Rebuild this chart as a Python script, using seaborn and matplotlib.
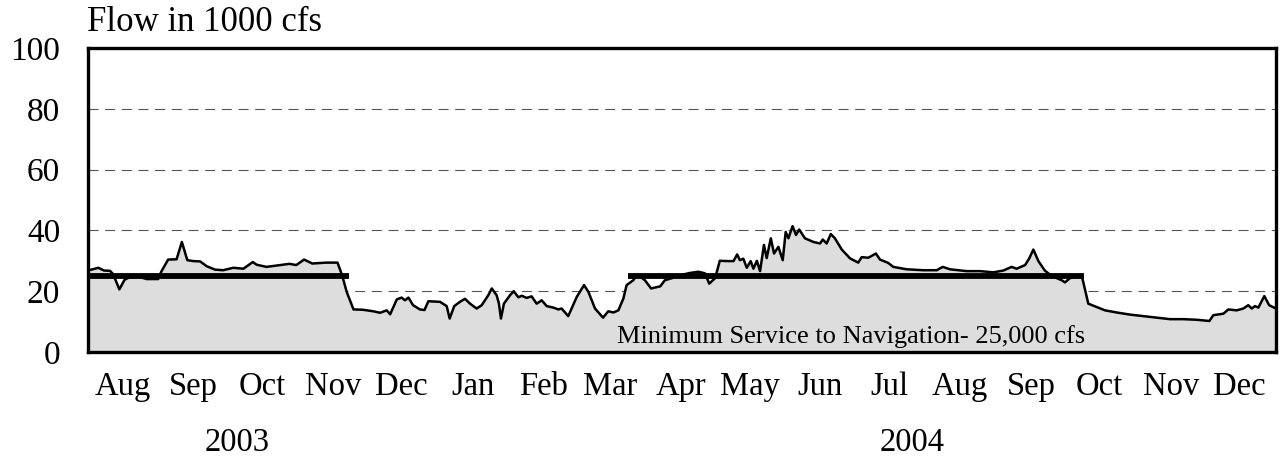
import pandas as pd
import seaborn as sns
import matplotlib.pyplot as plt
import matplotlib.dates as mdates

# flow readings: days after 1 Aug 2003, flow in 1000 cfs
days = [0, 4.5, 7, 9.6, 11, 13.7, 16, 18, 22, 25.6, 30.7, 32, 35, 38.7, 41, 43.4, 46, 49,
        51.9, 55.5, 59, 63.5, 67.9, 72, 73.7, 78, 84, 88, 91, 94.4, 98, 104, 109, 111, 113,
        116, 120, 124.6, 127.6, 130.5, 132, 134.9, 137, 138.5, 140, 142, 145, 147, 148.7,
        153.8, 156.7, 158, 160, 162.5, 164.7, 166.9, 169.8, 172, 174.9, 176.4, 178.5, 179.5,
        180.4, 181.7, 184.4, 186, 188, 189.5, 191.6, 193.8, 196, 198.2, 200.4, 203.3, 205.5,
        206.9, 209.8, 213.5, 216.7, 218.6, 221.5, 225, 227.3, 229.5, 231.7, 233.9, 235.3,
        238.2, 240, 243.3, 246, 250, 252, 256, 260, 263, 266.6, 269.5, 271.4, 274, 276,
        279.7, 282, 283.6, 284.8, 286.3, 287.8, 289.5, 290.7, 292.2, 293.6, 295.3, 296.5,
        298.3, 299.7, 301.6, 303.5, 304.8, 306, 307.8, 309.3, 310.7, 313.2, 316.9, 319.8,
        321, 322.7, 324.5, 326.3, 329.3, 332.9, 336.5, 338, 340.9, 344.2, 346, 349.6, 351.8,
        357.7, 364.9, 370.8, 373.4, 376.6, 383.9, 389.7, 395.5, 399.9, 403.5, 405.7, 409.4,
        411.2, 413, 415.2, 418, 421, 425.4, 426.8, 429, 434, 434.8, 437, 440.7, 444.3, 449.4,
        455.2, 461, 466.9, 472.7, 478.5, 484.4, 489.9, 491.6, 496, 498.2, 501.8, 504.7, 506.9,
        508.4, 509.8, 511.3, 513.9, 516, 519]
flow = [26.8, 27.7, 26.8, 26.7, 25.6, 20.6, 23.8, 24.5, 24.8, 24, 24, 26.4, 30.4, 30.5, 36.2,
        30.2, 29.9, 29.8, 28.2, 27.1, 26.9, 27.7, 27.4, 29.6, 28.7, 28, 28.6, 29, 28.6, 30.4,
        29.1, 29.4, 29.4, 25.3, 19.8, 14, 13.9, 13.4, 12.9, 13.7, 12.4, 17.3, 17.9, 17, 17.9,
        15.4, 14, 13.8, 16.7, 16.5, 15.1, 11, 15.1, 16.5, 17.5, 15.9, 14.3, 15.4, 18.7, 20.9,
        18.7, 16, 11, 15.9, 18.7, 20, 18, 18.5, 17.8, 18.3, 15.9, 17, 15.1, 14.6, 14, 14.3,
        11.8, 18.1, 22, 19.8, 14.3, 11.3, 13.4, 13, 13.7, 17.6, 22, 23.6, 25.5, 23.6, 20.9,
        21.6, 23.6, 24.5, 25.5, 26, 26.4, 25.9, 22.5, 24.3, 30, 29.9, 29.9, 32.1, 30.2, 30.7,
        27.7, 29.9, 27.4, 30, 26.6, 35.2, 30.9, 37.4, 32.4, 34.6, 30.2, 39.5, 37.4, 41.4,
        38.5, 40.3, 37.4, 36.2, 35.7, 37, 35.7, 38.8, 37.4, 33.7, 30.8, 29.4, 31.2, 31, 32.4,
        30.4, 29.3, 28, 27.2, 26.9, 26.9, 28, 27.2, 26.6, 26.6, 26.2, 26.8, 28, 27.4, 28.6,
        30.8, 33.7, 29.9, 26.8, 25, 23.6, 22.9, 24.3, 25.3, 23, 15.9, 14.8, 13.7, 13, 12.3,
        11.8, 11.3, 10.8, 10.8, 10.6, 10.2, 12.1, 12.6, 14, 13.7, 14.3, 15.4, 14.3, 15.1,
        14.6, 18.4, 15.4, 14.3]

# minimum service to navigation periods
nav_start = ["2003-08-01", "2004-03-24"]
nav_end = ["2003-11-23", "2004-10-09"]
nav_level = 25

years = ["2003", "2004"]
year_pos = ["2003-10-05", "2004-07-26"]

start = pd.Timestamp("2003-08-01")
df = pd.DataFrame({"date": start + pd.to_timedelta(days, unit="D"), "flow": flow})

sns.set_theme(style="white", rc={"text.color": "black", "axes.labelcolor": "black"})
plt.rcParams["font.family"] = ["Liberation Serif", "DejaVu Serif"]

fig = plt.figure(figsize=(12.8, 4.61), dpi=100)
ax = fig.add_axes([88 / 1280, 1 - 352 / 461, 1188 / 1280, 304 / 461])

ax.fill_between(df["date"], df["flow"], 0, color="#dddddd", lw=0, zorder=1)
sns.lineplot(data=df, x="date", y="flow", color="black", lw=1.8, ax=ax, zorder=2)
ax.hlines([nav_level] * len(nav_start), pd.to_datetime(nav_start), pd.to_datetime(nav_end),
          color="black", lw=4.2, zorder=3)

ax.set_xlim(start, pd.Timestamp("2005-01-01"))
ax.set_ylim(0, 100)
ax.set_yticks([0, 20, 40, 60, 80, 100])
ax.yaxis.grid(True, linestyle=(0, (9, 6)), color="#555555", lw=0.8)
ax.xaxis.grid(False)
ax.set_axisbelow(True)

ax.xaxis.set_major_locator(mdates.MonthLocator(bymonthday=16))
ax.xaxis.set_major_formatter(mdates.DateFormatter("%b"))
ax.tick_params(axis="y", length=0, pad=20, labelsize=24, colors="black")
ax.tick_params(axis="x", length=0, pad=14, labelsize=23.5, colors="black")
ax.set_xlabel("")
ax.set_ylabel("")

for s in ax.spines.values():
    s.set_color("black")
    s.set_linewidth(2.4)

for y, p in zip(years, year_pos):
    ax.text(pd.Timestamp(p), -0.3, y, transform=ax.get_xaxis_transform(),
            ha="center", va="center", fontsize=23.5, color="black")

ax.text(start + pd.Timedelta(days=231), 2.9, "Minimum Service to Navigation- 25,000 cfs",
        fontsize=19, va="baseline", ha="left", zorder=4, color="black")
fig.text(87 / 1280, 1 - 31 / 461, "Flow in 1000 cfs", ha="left", va="baseline",
         fontsize=25, color="black")

fig.savefig("out.png", dpi=100)
